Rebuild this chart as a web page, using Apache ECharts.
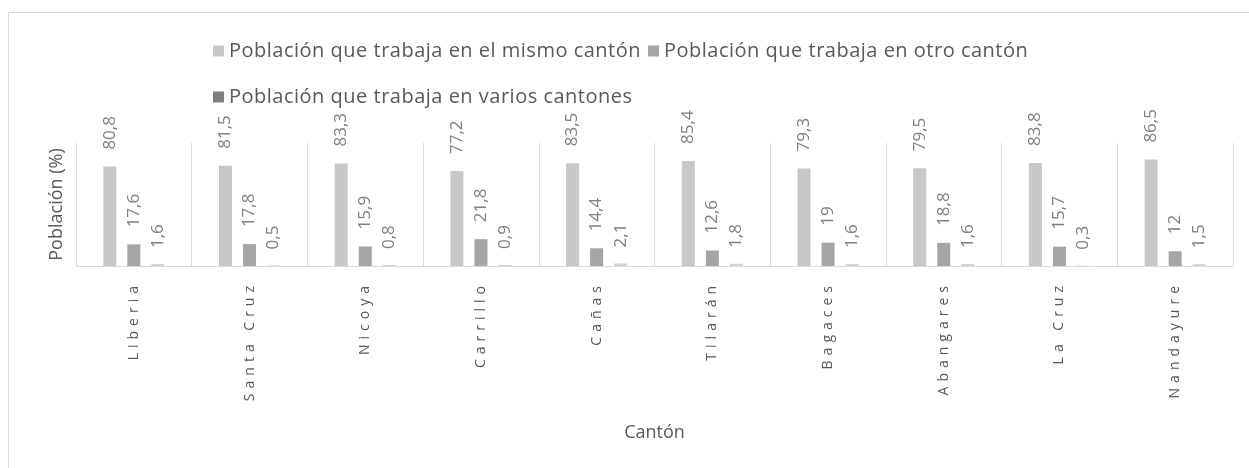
<!DOCTYPE html>
<html><head><meta charset="utf-8">
<script src="https://cdn.jsdelivr.net/npm/echarts@6/dist/echarts.min.js"></script>
<style>html,body{margin:0;padding:0;background:#fff}#c{width:1249px;height:468px}</style>
</head><body><div id="c"></div>
<script>
const categories = ['Liberia','Santa Cruz','Nicoya','Carrillo','Cañas','Tilarán','Bagaces','Abangares','La Cruz','Nandayure'];
const seriesNames = ['Población que trabaja en el mismo cantón','Población que trabaja en otro cantón','Población que trabaja en varios cantones'];
const mismoCanton = [80.8,81.5,83.3,77.2,83.5,85.4,79.3,79.5,83.8,86.5];
const otroCanton = [17.6,17.8,15.9,21.8,14.4,12.6,19,18.8,15.7,12];
const variosCantones = [1.6,0.5,0.8,0.9,2.1,1.8,1.6,1.6,0.3,1.5];

// character spacing for the category labels and legend texts (drawn glyph by glyph)
const spacing = new Map();
categories.forEach(c => spacing.set(c, 5));
seriesNames.forEach(n => spacing.set(n, 0.5));
const origFill = CanvasRenderingContext2D.prototype.fillText;
CanvasRenderingContext2D.prototype.fillText = function(t, x, y, m) {
  const sp = spacing.get(t);
  if (sp === undefined) {
    return m === undefined ? origFill.call(this, t, x, y) : origFill.call(this, t, x, y, m);
  }
  const chars = Array.from(t);
  const widths = chars.map(c => this.measureText(c).width);
  const total = widths.reduce((a, b) => a + b, 0) + sp * (chars.length - 1);
  const align = this.textAlign;
  let cx = x;
  if (align === 'right' || align === 'end') cx = x - total;
  else if (align === 'center') cx = x - total / 2;
  this.textAlign = 'left';
  chars.forEach((c, i) => { origFill.call(this, c, cx, y); cx += widths[i] + sp; });
  this.textAlign = align;
};

const FONT = 'Open Sans';
const colors = ['#c8c8c8', '#a5a5a5', '#7f7f7f'];
const fmt = p => String(p.value).replace('.', ',');
function mk(name, data, color, dist){
  return {name, type:'bar', data, barWidth:13, barGap:'85%',
    itemStyle:{color},
    label:{show:true, position:'top', rotate:90, align:'left', verticalAlign:'middle', distance:dist,
      formatter:fmt, color:'#7f7f7f', fontFamily:FONT, fontSize:17}};
}
const legendText = {color:'#595959', fontFamily:FONT, fontSize:20};
function lg(i, left, top){
  return {data:[{name:seriesNames[i], itemStyle:{color:colors[i]}}], left, top, itemWidth:11, itemHeight:11,
    icon:'rect', textStyle:legendText, selectedMode:false};
}
const chart = echarts.init(document.getElementById('c'));
chart.setOption({
  animation:false,
  graphic:[{type:'rect', shape:{x:8.5,y:12.5,width:1300,height:500}, style:{fill:'none', stroke:'#d9d9d9', lineWidth:1}}],
  legend:[lg(0, 208, 36), lg(1, 643, 36), lg(2, 208, 82)],
  grid:{left:76, right:16, top:143, bottom:202, containLabel:false},
  xAxis:{type:'category', data:categories, boundaryGap:true,
    axisLine:{lineStyle:{color:'#d9d9d9', width:1}}, axisTick:{show:false},
    splitLine:{show:true, lineStyle:{color:'#d9d9d9', width:1}},
    axisLabel:{rotate:90, margin:20, color:'#595959', fontFamily:FONT, fontSize:14},
    name:'Cantón', nameLocation:'middle', nameGap:158,
    nameTextStyle:{color:'#595959', fontFamily:FONT, fontSize:18}},
  yAxis:{type:'value', min:0, max:100, show:true, axisLine:{show:false}, axisTick:{show:false},
    axisLabel:{show:false}, splitLine:{show:false},
    name:'Población (%)', nameLocation:'middle', nameGap:10,
    nameTextStyle:{color:'#595959', fontFamily:FONT, fontSize:18}},
  series:[
    mk(seriesNames[0], mismoCanton, colors[0], 17),
    mk(seriesNames[1], otroCanton, colors[1], 17),
    mk(seriesNames[2], variosCantones, '#d4d4d4', 16)
  ]
});
</script></body></html>
